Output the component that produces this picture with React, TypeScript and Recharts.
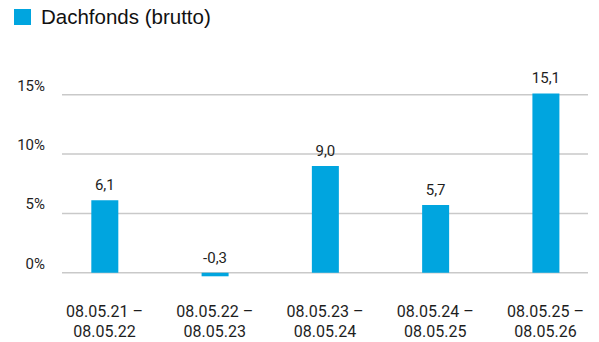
import { BarChart, Bar, XAxis, YAxis, CartesianGrid, LabelList } from "recharts";

const perioden = [
  ["08.05.21 –", "08.05.22"],
  ["08.05.22 –", "08.05.23"],
  ["08.05.23 –", "08.05.24"],
  ["08.05.24 –", "08.05.25"],
  ["08.05.25 –", "08.05.26"],
];
const brutto = [6.1, -0.3, 9.0, 5.7, 15.1];
const yTicks = [0, 5, 10, 15];

const seriesName = "Dachfonds (brutto)";
const blau = "#00a5df";
const textColor = "#1e1e1e";

const data = brutto.map((wert, idx) => ({ idx, wert }));

function XTick({ x, y, payload }: any) {
  const lines = perioden[payload.value] ?? [];
  return (
    <text x={x} y={y} textAnchor="middle" fill={textColor} fontFamily="Roboto" fontSize={16}>
      {lines.map((l, i) => (
        <tspan key={i} x={x} dy={i === 0 ? 24 : 20}>
          {l}
        </tspan>
      ))}
    </text>
  );
}

function YTick({ x, y, payload }: any) {
  return (
    <text x={x} y={y} dy={-4} textAnchor="end" fill={textColor} fontFamily="Roboto" fontSize={15}>
      {payload.value}%
    </text>
  );
}

function WertLabel({ x, y, width, height, value }: any) {
  const top = Math.min(y, y + height);
  return (
    <text x={x + width / 2} y={top - 10} textAnchor="middle" fill={textColor} fontFamily="Roboto" fontSize={15}>
      {Number(value).toFixed(1).replace(".", ",")}
    </text>
  );
}

function LegendBox() {
  return (
    <div
      style={{
        position: "absolute",
        left: 14,
        top: 5,
        display: "flex",
        alignItems: "center",
        fontFamily: "'Liberation Sans', Arial, sans-serif",
        fontSize: 20.5,
        lineHeight: "24px",
        color: "#111",
      }}
    >
      <span style={{ width: 17, height: 16, background: blau, marginRight: 10, display: "inline-block" }} />
      {seriesName}
    </div>
  );
}

export default function App() {
  return (
    <div style={{ position: "absolute", left: 0, top: 0, width: 599, height: 342, background: "#fff" }}>
      <BarChart width={599} height={342} data={data} margin={{ top: 82.8, right: 11, bottom: 0, left: 0 }}>
        <CartesianGrid vertical={false} horizontalValues={yTicks} stroke="#c9c9c9" strokeWidth={1.5} />
        <XAxis
          type="number"
          dataKey="idx"
          domain={[-0.385, 4.385]}
          ticks={[0, 1, 2, 3, 4]}
          axisLine={false}
          tickLine={false}
          height={57.4}
          tick={<XTick />}
          interval={0}
        />
        <YAxis
          domain={[-1, 16]}
          ticks={yTicks}
          axisLine={false}
          tickLine={false}
          tickSize={0}
          width={62}
          tickMargin={17}
          tick={<YTick />}
        />
        <Bar dataKey="wert" name={seriesName} fill={blau} barSize={27} isAnimationActive={false}>
          <LabelList dataKey="wert" content={<WertLabel />} />
        </Bar>
      </BarChart>
      <LegendBox />
    </div>
  );
}
